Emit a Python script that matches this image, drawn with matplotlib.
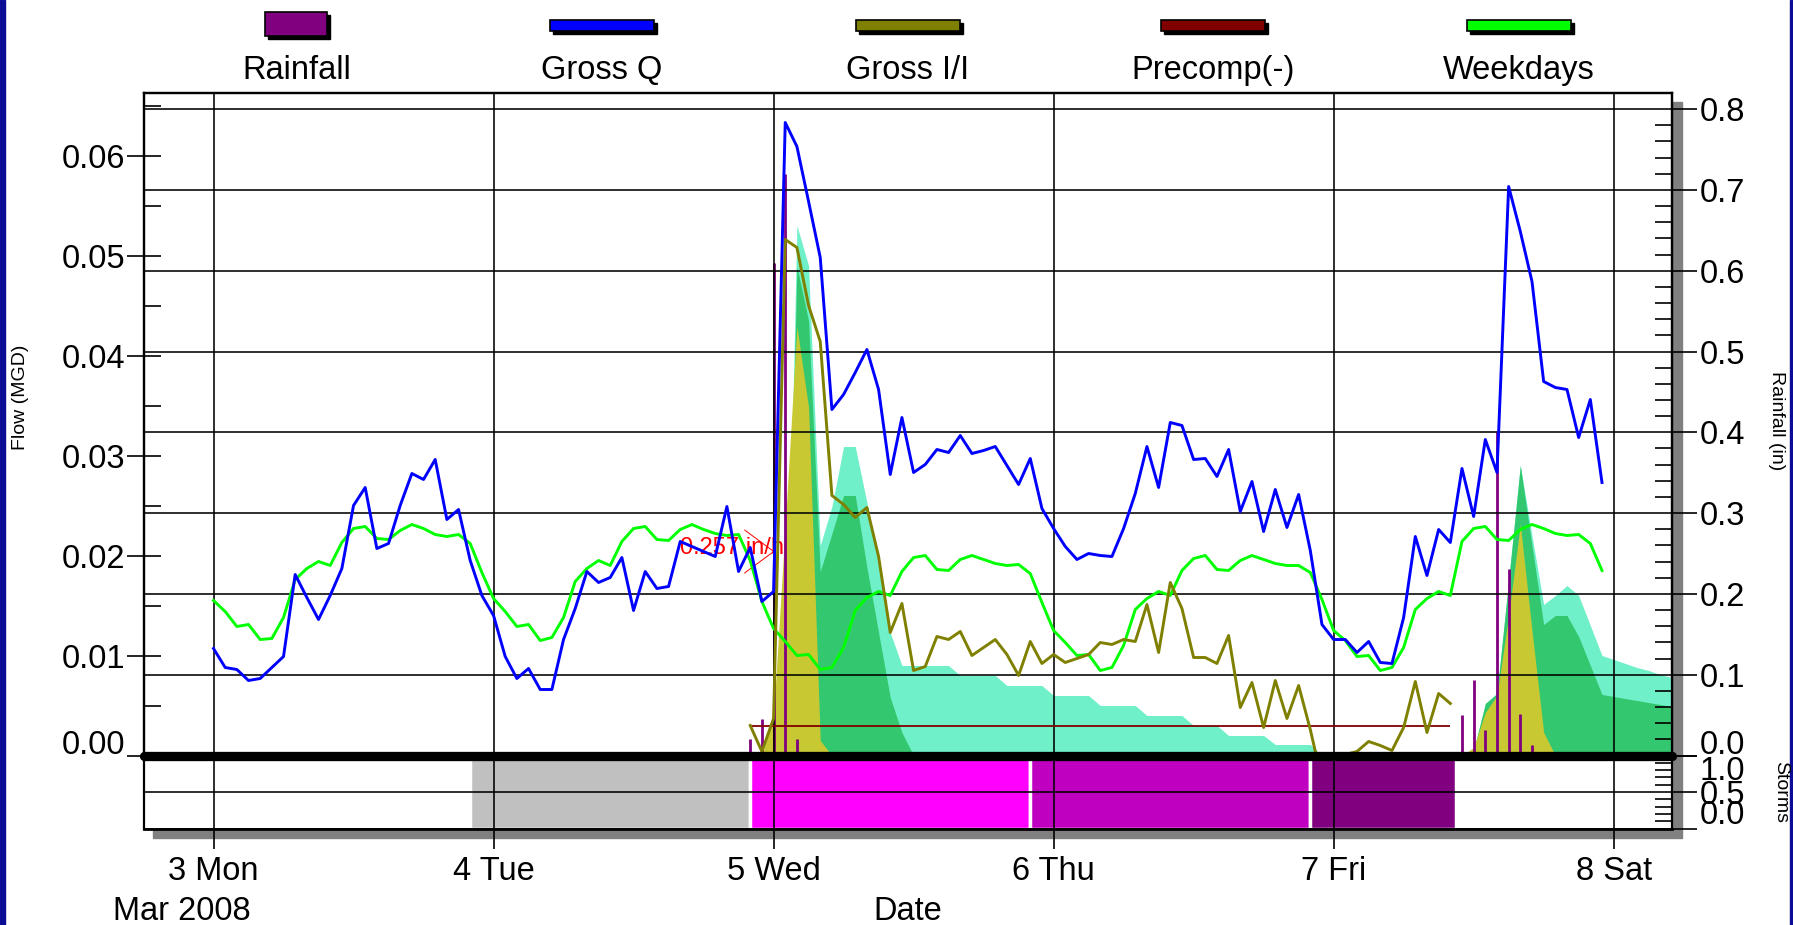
import matplotlib
matplotlib.use('Agg')
import matplotlib.pyplot as plt
import matplotlib.dates as mdates
import matplotlib.ticker as mticker
import matplotlib.transforms as mtransforms
from matplotlib.patches import Rectangle
import pandas as pd

plt.rcParams['font.family'] = ['Liberation Sans', 'DejaVu Sans']

# ---- data (hourly) ----
start = '2008-03-03 00:00'

gross_q = [0.0107, 0.0088, 0.0086, 0.0075, 0.0077, 0.0088, 0.0099, 0.0181, 0.0158, 0.0136, 0.0160, 0.0187,
           0.0250, 0.0268, 0.0207, 0.0212, 0.0250, 0.0282, 0.0276, 0.0296, 0.0236, 0.0246, 0.0195, 0.0160,
           0.0140, 0.0099, 0.0077, 0.0087, 0.0066, 0.0066, 0.0116, 0.0147, 0.0184, 0.0173, 0.0178, 0.0198,
           0.0145, 0.0184, 0.0167, 0.0169, 0.0214, 0.0209, 0.0204, 0.0199, 0.0249, 0.0184, 0.0208, 0.0154,
           0.0164, 0.0633, 0.0609, 0.0554, 0.0498, 0.0346, 0.0361, 0.0383, 0.0406, 0.0366, 0.0281, 0.0338,
           0.0283, 0.0291, 0.0306, 0.0303, 0.0320, 0.0302, 0.0305, 0.0309, 0.0290, 0.0271, 0.0297, 0.0247,
           0.0227, 0.0209, 0.0196, 0.0202, 0.0200, 0.0199, 0.0227, 0.0262, 0.0309, 0.0268, 0.0333, 0.0330,
           0.0296, 0.0297, 0.0279, 0.0306, 0.0244, 0.0274, 0.0224, 0.0266, 0.0228, 0.0261, 0.0205, 0.0131,
           0.0116, 0.0116, 0.0103, 0.0114, 0.0093, 0.0092, 0.0138, 0.0219, 0.0180, 0.0226, 0.0213, 0.0287,
           0.0239, 0.0316, 0.0283, 0.0569, 0.0524, 0.0474, 0.0374, 0.0368, 0.0366, 0.0318, 0.0356, 0.0273]

weekdays = [0.0155, 0.0144, 0.0129, 0.0131, 0.0116, 0.0117, 0.0138, 0.0176, 0.0187, 0.0194, 0.0190, 0.0213,
            0.0227, 0.0229, 0.0217, 0.0216, 0.0225, 0.0231, 0.0227, 0.0221, 0.0219, 0.0221, 0.0212, 0.0183,
            0.0157, 0.0144, 0.0129, 0.0131, 0.0115, 0.0118, 0.0138, 0.0174, 0.0187, 0.0195, 0.0190, 0.0214,
            0.0227, 0.0229, 0.0216, 0.0215, 0.0226, 0.0231, 0.0226, 0.0222, 0.0220, 0.0221, 0.0195, 0.0154,
            0.0127, 0.0114, 0.0100, 0.0101, 0.0086, 0.0088, 0.0108, 0.0145, 0.0158, 0.0164, 0.0160, 0.0184,
            0.0198, 0.0200, 0.0186, 0.0185, 0.0196, 0.0200, 0.0196, 0.0192, 0.0190, 0.0191, 0.0182, 0.0153,
            0.0125, 0.0113, 0.0100, 0.0101, 0.0085, 0.0088, 0.0110, 0.0146, 0.0157, 0.0164, 0.0160, 0.0185,
            0.0197, 0.0200, 0.0186, 0.0185, 0.0195, 0.0200, 0.0196, 0.0192, 0.0190, 0.0190, 0.0183, 0.0156,
            0.0125, 0.0115, 0.0099, 0.0100, 0.0085, 0.0088, 0.0108, 0.0146, 0.0157, 0.0164, 0.0160, 0.0214,
            0.0227, 0.0229, 0.0216, 0.0215, 0.0226, 0.0231, 0.0227, 0.0222, 0.0220, 0.0221, 0.0212, 0.0185]

ii_start = '2008-03-04 22:00'
gross_ii = [0.0030, 0.0004, 0.0037, 0.0516, 0.0508, 0.0450, 0.0414, 0.0260, 0.0251, 0.0238, 0.0248, 0.0199,
            0.0123, 0.0152, 0.0085, 0.0089, 0.0119, 0.0116, 0.0124, 0.0100, 0.0108, 0.0116, 0.0101, 0.0080,
            0.0114, 0.0092, 0.0101, 0.0093, 0.0097, 0.0101, 0.0113, 0.0111, 0.0116, 0.0114, 0.0151, 0.0103,
            0.0173, 0.0147, 0.0098, 0.0098, 0.0092, 0.0120, 0.0048, 0.0073, 0.0028, 0.0075, 0.0037, 0.0070,
            0.0026, -0.0025, -0.0009, 0.0001, 0.0004, 0.0014, 0.0010, 0.0005, 0.0028, 0.0074, 0.0023, 0.0062,
            0.0052]

precomp = 0.003
precomp_start = '2008-03-04 22:00'
precomp_end = '2008-03-07 10:00'

rain_times = ['2008-03-04 22:00', '2008-03-04 23:00', '2008-03-05 00:00', '2008-03-05 01:00',
              '2008-03-05 02:00', '2008-03-07 11:00', '2008-03-07 12:00', '2008-03-07 13:00',
              '2008-03-07 14:00', '2008-03-07 15:00', '2008-03-07 16:00', '2008-03-07 17:00']
rain_in = [0.02, 0.045, 0.61, 0.72, 0.021, 0.05, 0.093, 0.032, 0.40, 0.231, 0.051, 0.013]

# RDII components, event 1 (Wed) and event 2 (Sat)
ev1_start = '2008-03-04 23:00'
slow_1 = [0, 0, 0.001, 0.053, 0.049, 0.021, 0.0249, 0.0309, 0.0309, 0.0253, 0.0192, 0.0123,
          0.009, 0.009, 0.009, 0.009, 0.009, 0.008, 0.008, 0.008, 0.008, 0.007, 0.007, 0.007,
          0.007, 0.006, 0.006, 0.006, 0.006, 0.005, 0.005, 0.005, 0.005, 0.004, 0.004, 0.004,
          0.004, 0.003, 0.003, 0.003, 0.002, 0.002, 0.002, 0.002, 0.0011, 0.0011, 0.0011, 0.0011, 0]
medium_1 = [0, 0, 0, 0.0489, 0.0435, 0.0184, 0.0222, 0.026, 0.026, 0.0188, 0.0123, 0.0058, 0.0023, 0]
fast_1 = [0, 0.004, 0.023, 0.0429, 0.0348, 0.0015, 0]

ev2_start = '2008-03-07 10:00'
slow_2 = [0, 0, 0.0005, 0.0052, 0.0062, 0.0175, 0.029, 0.022, 0.0151, 0.016, 0.017, 0.016,
          0.013, 0.010, 0.0096, 0.0092, 0.0088, 0.0085, 0.0081, 0.0078]
medium_2 = [0, 0, 0.0005, 0.0052, 0.0062, 0.0175, 0.029, 0.021, 0.0131, 0.014, 0.014, 0.0119,
            0.009, 0.0061, 0.0059, 0.0057, 0.0055, 0.0053, 0.0051, 0.0049]
fast_2 = [0, 0, 0.0008, 0.0043, 0.006, 0.014, 0.0231, 0.0125, 0.0023, 0]

storm_start = ['2008-03-03 22:00', '2008-03-04 22:00', '2008-03-05 22:00', '2008-03-06 22:00']
storm_end = ['2008-03-04 22:00', '2008-03-05 22:00', '2008-03-06 22:00', '2008-03-07 10:30']
storm_colors = ['#C0C0C0', '#FF00FF', '#C000C0', '#800080']

legend_labels = ['Rainfall', 'Gross Q', 'Gross I/I', 'Precomp(-)', 'Weekdays']
legend_colors = ['#800080', '#0000FF', '#808000', '#800000', '#00FF00']

# ---- layout in pixels ----
W, H = 1793, 925
L, R, T, B, S = 143.5, 1672, 92.7, 755.5, 828.5
FS = 23.5
LW = 2.1


def fbox(x0, y0, x1, y1):
    return [x0 / W, 1 - y1 / H, (x1 - x0) / W, (y1 - y0) / H]


fig = plt.figure(figsize=(W / 100, H / 100), dpi=100)

# drop shadow and side borders
fig.add_artist(Rectangle((153 / W, 1 - 838 / H), (1681.5 - 153) / W, (838 - 102) / H,
                         transform=fig.transFigure, color='#808080', zorder=-5))
fig.add_artist(Rectangle((0, 0), 4.6 / W, 1, transform=fig.transFigure, color='#0C0C96', zorder=-5))
fig.add_artist(Rectangle((1789.5 / W, 0), 3.5 / W, 1, transform=fig.transFigure, color='#0C0C96', zorder=-5))

axs = fig.add_axes(fbox(L, B, R, S))
axs.set_zorder(-1)
axf = fig.add_axes(fbox(L, T, R, B), sharex=axs)
axr = axf.twinx()

times = pd.date_range(start, periods=len(gross_q), freq='h')
ftr = axf.transData

# component fills
for st, comps in [(ev1_start, [slow_1, medium_1, fast_1]), (ev2_start, [slow_2, medium_2, fast_2])]:
    for vals, col in zip(comps, ['#70F0C8', '#33C870', '#C8C832']):
        tt = pd.date_range(st, periods=len(vals), freq='h')
        axr.fill_between(tt, 0, vals, color=col, lw=0, transform=ftr, zorder=1)

axr.vlines(pd.to_datetime(rain_times), 0, rain_in, colors='#800080', lw=2.0, zorder=2.4)

axr.hlines(precomp, pd.Timestamp(precomp_start), pd.Timestamp(precomp_end), colors='#800000',
           lw=1.3, transform=ftr, zorder=3)
axr.plot(times, weekdays, color='#00FF00', lw=LW, transform=ftr, zorder=3)
axr.plot(pd.date_range(ii_start, periods=len(gross_ii), freq='h'), gross_ii, color='#808000',
         lw=LW, transform=ftr, zorder=3)
axr.plot(times, gross_q, color='#0000FF', lw=LW, transform=ftr, zorder=3.1)

# peak intensity note
axr.text(mdates.date2num(pd.Timestamp('2008-03-04 16:00')), 0.0207, '0.257 in/hr2', color='red',
         fontsize=17, va='center', ha='left', transform=ftr, zorder=0.9)
tip = mdates.date2num(pd.Timestamp('2008-03-05 00:05'))
axr.annotate('', xy=(tip, 0.0204), xytext=(tip - 0.002, 0.0204), xycoords=ftr,
             arrowprops=dict(arrowstyle='->,head_length=2.1,head_width=1.55', color='red',
                             lw=0.7, shrinkA=0, shrinkB=0), zorder=0.9)

axr.axhline(0, color='black', lw=6.7, solid_capstyle='round', clip_on=False, zorder=5)

# storms panel
s0 = mdates.date2num(pd.to_datetime(storm_start))
s1 = mdates.date2num(pd.to_datetime(storm_end))
axs.bar(s0, 1.0, width=s1 - s0, align='edge', color=storm_colors, edgecolor='white', lw=2.5, zorder=1)

# ---- axes setup ----
axs.set_xlim(pd.Timestamp('2008-03-02 18:00'), pd.Timestamp('2008-03-08 05:00'))
axf.set_ylim(0, 0.06628)
axr.set_ylim(0, 0.8203)
axs.set_ylim(0, 1)

axs.xaxis.set_major_locator(mdates.DayLocator())
axs.xaxis.set_major_formatter(mdates.DateFormatter('%-d %a'))
axs.tick_params(axis='x', direction='out', length=14.4, width=1.2, labelsize=FS, pad=5.5)
axf.tick_params(axis='x', which='both', bottom=False, labelbottom=False)

axf.yaxis.set_major_locator(mticker.MultipleLocator(0.01))
axf.yaxis.set_minor_locator(mticker.MultipleLocator(0.005))
axf.yaxis.set_major_formatter(mticker.FormatStrFormatter('%.2f'))
axf.tick_params(axis='y', which='major', direction='inout', length=24.5, width=1.2, labelsize=FS, pad=1)
axf.tick_params(axis='y', which='minor', direction='in', length=12, width=1.2)

axr.yaxis.set_major_locator(mticker.MultipleLocator(0.1))
axr.yaxis.set_minor_locator(mticker.MultipleLocator(0.02))
axr.yaxis.set_major_formatter(mticker.FormatStrFormatter('%.1f'))
axr.tick_params(axis='y', which='major', direction='out', length=18, width=1.2, labelsize=FS, pad=2)
axr.tick_params(axis='y', which='minor', direction='in', length=12, width=1.2)

axr.xaxis.set_visible(True)
axr.tick_params(axis='x', which='both', bottom=False, top=False, labelbottom=False, labeltop=False)
axr.set_axisbelow(False)
axr.grid(axis='both', which='major', color='black', lw=1.15)

axs.yaxis.tick_right()
axs.yaxis.set_major_locator(mticker.FixedLocator([0.0, 0.5, 1.0]))
axs.yaxis.set_minor_locator(mticker.MultipleLocator(0.1))
axs.yaxis.set_major_formatter(mticker.FormatStrFormatter('%.1f'))
axs.tick_params(axis='y', which='major', direction='out', length=18, width=1.2, labelsize=FS, pad=2)
axs.tick_params(axis='y', which='minor', direction='in', length=12, width=1.2)
axs.set_axisbelow(False)
axs.grid(axis='both', which='major', color='black', lw=1.15)

for a in (axf, axr, axs):
    for sp in a.spines.values():
        sp.set_linewidth(1.6)
axs.spines['bottom'].set_linewidth(2.0)

# axis titles
fig.text(20.6 / W, 1 - 397 / H, 'Flow (MGD)', rotation=90, ha='center', va='center', fontsize=14)
fig.text(1776 / W, 1 - 421 / H, 'Rainfall (in)', rotation=270, ha='center', va='center', fontsize=14)
fig.text(1780.7 / W, 1 - 791.7 / H, 'Storms', rotation=270, ha='center', va='center', fontsize=14)
fig.text(113 / W, 1 - 920 / H, 'Mar 2008', ha='left', va='baseline', fontsize=FS)
fig.text((L + R) / 2 / W, 1 - 920 / H, 'Date', ha='center', va='baseline', fontsize=FS)

# legend across the top
slot = (R - L) / len(legend_labels)
for i, (lab, col) in enumerate(zip(legend_labels, legend_colors)):
    cx = L + (i + 0.5) * slot
    if i == 0:
        w, h, top = 62, 24, 12
    else:
        w, h, top = 104, 11, 20
    fig.add_artist(Rectangle(((cx - w / 2 + 3) / W, 1 - (top + h + 3) / H), w / W, h / H,
                             transform=fig.transFigure, color='black'))
    fig.add_artist(Rectangle(((cx - w / 2) / W, 1 - (top + h) / H), w / W, h / H,
                             transform=fig.transFigure, facecolor=col, edgecolor='black', lw=1.2))
    fig.text(cx / W, 1 - 79 / H, lab, ha='center', va='baseline', fontsize=FS)

# nudge the crowded zero labels
fig.canvas.draw()


def nudge(axis, loc, dy_px):
    for t in axis.get_major_ticks():
        if abs(t.get_loc() - loc) < 1e-9:
            for lbl in (t.label1, t.label2):
                lbl.set_transform(lbl.get_transform() +
                                  mtransforms.ScaledTranslation(0, dy_px / 100, fig.dpi_scale_trans))


nudge(axf.yaxis, 0.0, 14)
nudge(axr.yaxis, 0.0, 13)
nudge(axs.yaxis, 1.0, -12)
nudge(axs.yaxis, 0.0, 16)

fig.savefig('out.png', dpi=100)
